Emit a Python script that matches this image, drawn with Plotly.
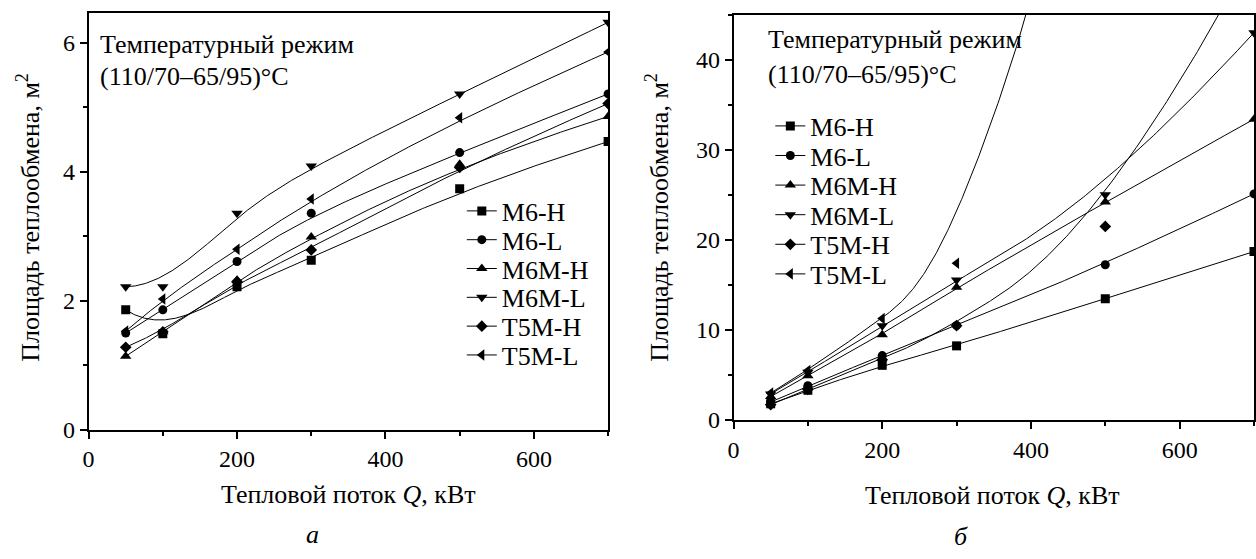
import numpy as np
import plotly.graph_objects as go

# ---------------- data ----------------
Q = [50, 100, 200, 300, 500, 700]
series_names = ["M6-H", "M6-L", "M6M-H", "M6M-L", "T5M-H", "T5M-L"]
symbols = ["square", "circle", "triangle-up", "triangle-down", "diamond", "triangle-left"]

# panel a
a_M6_H = [1.86, 1.49, 2.22, 2.63, 3.74, 4.47]
a_M6_L = [1.50, 1.86, 2.61, 3.36, 4.30, 5.21]
a_M6M_H = [1.14, 1.52, 2.32, 2.99, 4.12, 4.86]
a_M6M_L = [2.22, 2.22, 3.36, 4.09, 5.21, 6.32]
a_T5M_H = [1.28, 1.52, 2.30, 2.79, 4.07, 5.06]
a_T5M_L = [1.53, 2.03, 2.80, 3.58, 4.84, 5.86]

# panel b (values above 45 lie outside the visible range)
b_M6_H = [1.8, 3.3, 6.07, 8.23, 13.47, 18.7]
b_M6_L = [2.0, 3.8, 7.15, 10.5, 17.23, 25.1]
b_M6M_H = [2.6, 4.9, 9.46, 14.73, 24.2, 33.4]
b_M6M_L = [2.9, 5.3, 10.47, 15.53, 25.0, 43.0]
b_T5M_H = [1.7, 3.4, 6.7, 10.47, 21.49, 52.0]
b_T5M_L = [3.0, 5.5, 11.27, 17.4, 72.0, 160.0]

panel_a = [a_M6_H, a_M6_L, a_M6M_H, a_M6M_L, a_T5M_H, a_T5M_L]
panel_b = [b_M6_H, b_M6_L, b_M6M_H, b_M6M_L, b_T5M_H, b_T5M_L]

W, H = 1256, 559
FONT = "Times New Roman, Liberation Serif, Tinos, DejaVu Serif, serif"


def bspline(xs, ys, k=3, n=400):
    """Clamped uniform B-spline using the data points as control points."""
    P = np.column_stack([np.asarray(xs, float), np.asarray(ys, float)])
    m = len(P)
    k = min(k, m - 1)
    kv = np.concatenate([np.zeros(k), np.arange(m - k + 1), np.full(k, m - k)]).astype(float)
    us = np.linspace(0, m - k, n)
    out = []
    for u in us:
        if u >= kv[m]:
            idx = m - 1
        else:
            idx = int(np.searchsorted(kv, u, side="right") - 1)
        d = [P[j + idx - k].copy() for j in range(k + 1)]
        for r in range(1, k + 1):
            for j in range(k, r - 1, -1):
                i = j + idx - k
                den = kv[i + k + 1 - r] - kv[i]
                alpha = 0.0 if den == 0 else (u - kv[i]) / den
                d[j] = (1 - alpha) * d[j - 1] + alpha * d[j]
        out.append(d[k])
    out = np.array(out)
    return out[:, 0], out[:, 1]


def gapped(vals):
    """Insert gaps so markers are drawn without straight connecting segments."""
    res = []
    for v in vals:
        res.extend([v, None])
    return res[:-1]


def px2x(px):
    return px / W


def py2y(py):
    return 1 - py / H


fig = go.Figure()

legend_layout = {}
for p, (panel, xa, ya) in enumerate([(panel_a, "x", "y"), (panel_b, "x2", "y2")]):
    for i, (name, sym, vals) in enumerate(zip(series_names, symbols, panel)):
        lk_num = p * 6 + i + 1
        lk = "legend" if lk_num == 1 else f"legend{lk_num}"
        cx, cy = bspline(Q, vals)
        fig.add_trace(go.Scatter(
            x=cx, y=cy, mode="lines", line=dict(color="black", width=1),
            xaxis=xa, yaxis=ya, showlegend=False, hoverinfo="skip"))
        fig.add_trace(go.Scatter(
            x=gapped(Q), y=gapped(vals), mode="lines+markers", name=name,
            connectgaps=False,
            line=dict(color="black", width=1),
            marker=dict(symbol=sym, size=10 if "triangle" in sym else 9, color="black"),
            xaxis=xa, yaxis=ya, legend=lk, showlegend=True))
        if p == 0:
            lx = px2x(458)
            ly = py2y(216 + 29.5 * i)
        else:
            lx = px2x(768)
            ly = py2y(129 + 30.3 * i)
        legend_layout[lk] = dict(x=lx, y=ly, xanchor="left", yanchor="middle",
                                 bgcolor="rgba(0,0,0,0)", borderwidth=0,
                                 font=dict(family=FONT, size=26, color="black"))

axis_common = dict(
    showline=True, linecolor="black", linewidth=1.5, mirror=True,
    ticks="outside", ticklen=7, tickwidth=1.5, tickcolor="black",
    showgrid=False, zeroline=False,
    tickfont=dict(family=FONT, size=24, color="black"),
)
minor_x = dict(dtick=100, ticks="outside", ticklen=4, tickwidth=1.5, tickcolor="black")

fig.update_layout(
    width=W, height=H, autosize=False,
    margin=dict(l=0, r=0, t=0, b=0),
    paper_bgcolor="white", plot_bgcolor="white",
    font=dict(family=FONT, size=24, color="black"),
    xaxis=dict(domain=[px2x(83), px2x(605)], range=[0, 700], dtick=200, anchor="y",
               minor=minor_x, **axis_common),
    yaxis=dict(domain=[py2y(440), py2y(13)], range=[0, 6.47], dtick=2, anchor="x",
               minor=dict(dtick=1, ticks="outside", ticklen=4, tickwidth=1.5, tickcolor="black"),
               **axis_common),
    xaxis2=dict(domain=[px2x(731), px2x(1254)], range=[0, 700], dtick=200, anchor="y2",
                minor=minor_x, **axis_common),
    yaxis2=dict(domain=[py2y(430), py2y(15)], range=[0, 45], dtick=10, anchor="x2",
                minor=dict(dtick=5, ticks="outside", ticklen=4, tickwidth=1.5, tickcolor="black"),
                **axis_common),
    **legend_layout,
)

ann_font = dict(family=FONT, size=26, color="black")
annotations = [
    # panel a texts
    dict(x=px2x(92), y=py2y(45.7), text="Температурный режим", xanchor="left", yanchor="middle"),
    dict(x=px2x(92), y=py2y(78.3), text="(110/70–65/95)°C", xanchor="left", yanchor="middle"),
    dict(x=px2x(344), y=py2y(506), text="Тепловой поток <i>Q</i>, кВт", xanchor="center", yanchor="middle"),
    dict(x=px2x(23), y=py2y(222), text="Площадь теплообмена, м<sup>2</sup>", textangle=-90,
         xanchor="center", yanchor="middle"),
    dict(x=px2x(308), y=py2y(547), text="<i>а</i>", xanchor="center", yanchor="middle"),
    # panel b texts
    dict(x=px2x(764), y=py2y(40.7), text="Температурный режим", xanchor="left", yanchor="middle"),
    dict(x=px2x(764), y=py2y(76), text="(110/70–65/95)°C", xanchor="left", yanchor="middle"),
    dict(x=px2x(991), y=py2y(507), text="Тепловой поток <i>Q</i>, кВт", xanchor="center", yanchor="middle"),
    dict(x=px2x(655), y=py2y(222), text="Площадь теплообмена, м<sup>2</sup>", textangle=-90,
         xanchor="center", yanchor="middle"),
    dict(x=px2x(960), y=py2y(549), text="<i>б</i>", xanchor="center", yanchor="middle"),
]
for a in annotations:
    a.update(xref="paper", yref="paper", showarrow=False, font=ann_font)
fig.update_layout(annotations=annotations)

fig.write_html("out.html", config={"displayModeBar": False},
               post_script="document.body.style.margin='0';document.body.style.overflow='hidden';")
